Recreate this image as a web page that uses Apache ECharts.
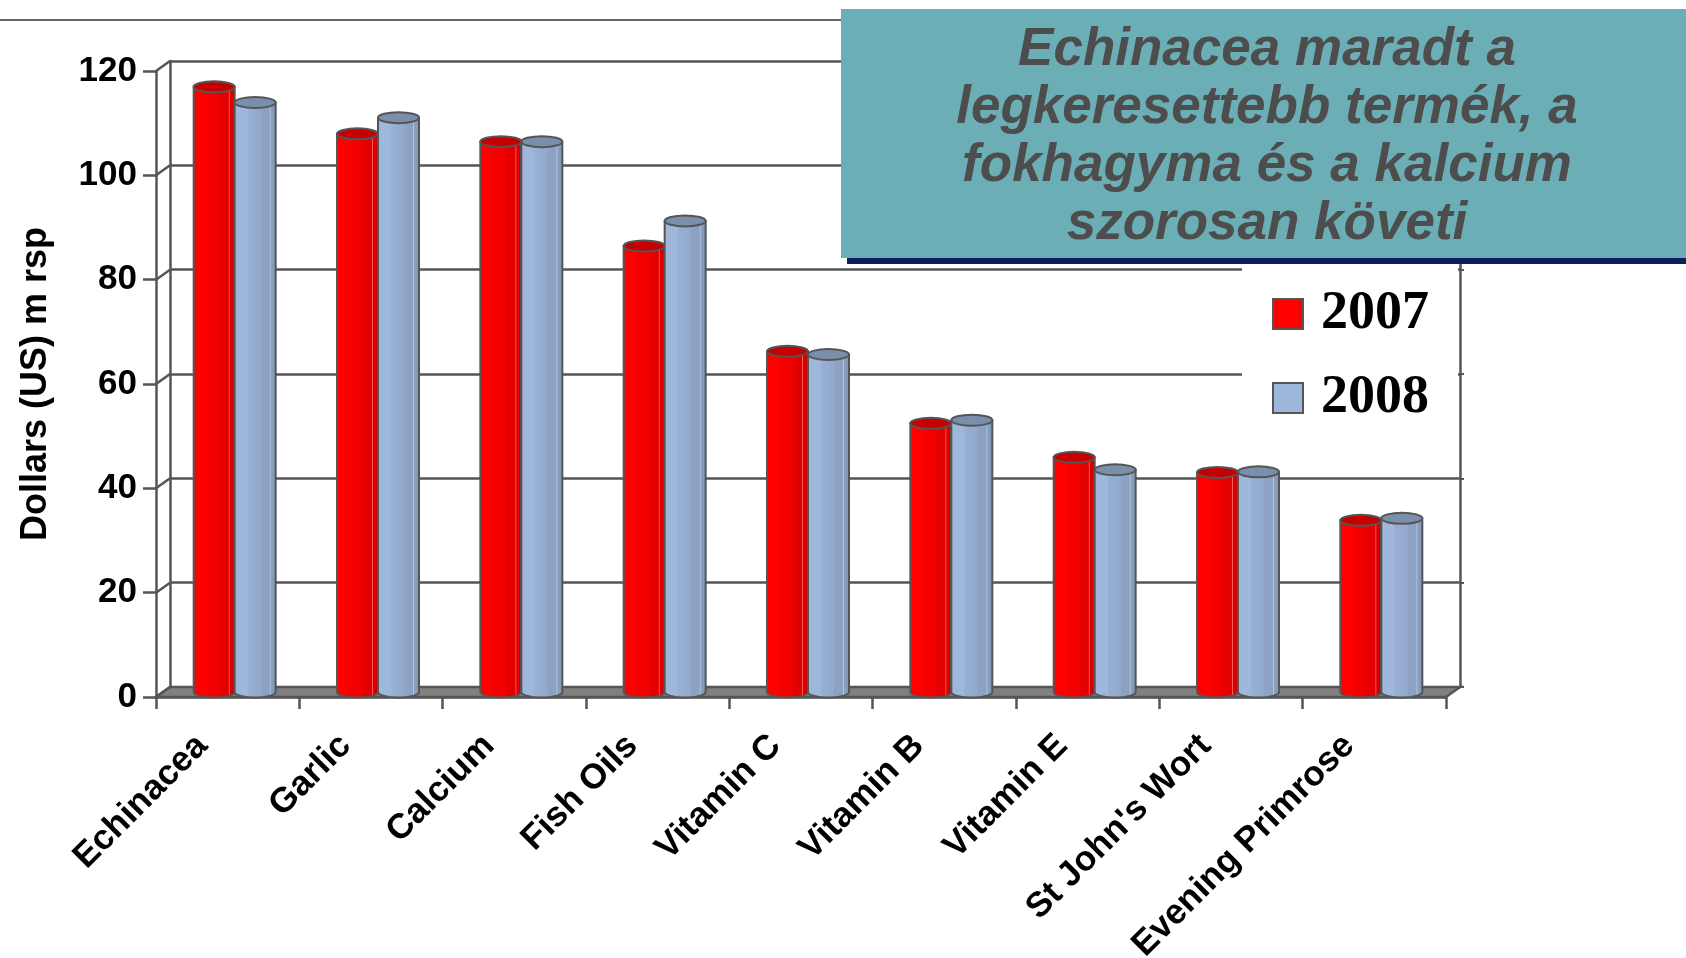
<!DOCTYPE html>
<html>
<head>
<meta charset="utf-8">
<script src="https://cdn.jsdelivr.net/npm/echarts@6/dist/echarts.min.js"></script>
<style>
  html, body { margin: 0; padding: 0; background: #fff; }
  #chart { width: 1686px; height: 958px; }
</style>
</head>
<body>
<div id="chart"></div>
<script>
// ---- data ----
const categories = ['Echinacea', 'Garlic', 'Calcium', 'Fish Oils', 'Vitamin C', 'Vitamin B', 'Vitamin E', "St John's Wort", 'Evening Primrose'];
const values2007 = [116, 107, 105.5, 85.5, 65.3, 51.5, 45, 42.1, 32.9];
const values2008 = [113, 110.1, 105.5, 90.3, 64.7, 52.1, 42.6, 42.2, 33.3];
const seriesNames = ['2007', '2008'];
const yTicks = [0, 20, 40, 60, 80, 100, 120];
const yAxisName = 'Dollars (US) m rsp';
const titleLines = ['Echinacea maradt a', 'legkeresettebb termék, a', 'fokhagyma és a kalcium', 'szorosan követi'];

// ---- layout ----
const FRONT = { left: 156, right: 240, top: 71, bottom: 261 };
const DX = 14, DY = -10; // depth offset front -> back
const MID = { left: FRONT.left + DX / 2, right: FRONT.right - DX / 2, top: FRONT.top + DY / 2, bottom: FRONT.bottom - DY / 2 };
const BACK = { left: FRONT.left + DX, right: FRONT.right - DX, top: FRONT.top + DY, bottom: FRONT.bottom - DY };
const LINE = '#555555';

const chart = echarts.init(document.getElementById('chart'));

function cylinder(params, api, side, colors) {
  const idx = api.value(0);
  const v = api.value(1);
  const base = api.coord([idx, 0]);
  const top = api.coord([idx, v]);
  const band = api.size([1, 0])[0];
  const w = band * 0.286;
  const cx = base[0] + side * w / 2;
  const rx = w / 2, ry = 5.5;
  const l = cx - rx, r = cx + rx;
  const by = base[1], ty = top[1];
  const body = `M ${l} ${ty} L ${l} ${by} A ${rx} ${ry} 0 0 0 ${r} ${by} L ${r} ${ty} Z`;
  const cap = `M ${l} ${ty} A ${rx} ${ry} 0 1 0 ${r} ${ty} A ${rx} ${ry} 0 1 0 ${l} ${ty} Z`;
  return {
    type: 'group',
    children: [
      { type: 'path', shape: { pathData: body },
        style: { fill: new echarts.graphic.LinearGradient(0, 0, 1, 0, colors.body), stroke: LINE, lineWidth: 2 } },
      { type: 'path', shape: { pathData: cap },
        style: { fill: colors.cap, stroke: LINE, lineWidth: 2 } }
    ]
  };
}

const redColors = {
  body: [
    { offset: 0, color: '#FF0000' }, { offset: 0.32, color: '#FF0000' },
    { offset: 0.34, color: '#F60000' }, { offset: 0.62, color: '#F00000' },
    { offset: 0.64, color: '#E40000' }, { offset: 0.83, color: '#E00000' },
    { offset: 0.85, color: '#FF6060' }, { offset: 0.87, color: '#DC0000' },
    { offset: 1, color: '#D00000' }
  ],
  cap: '#C60000'
};
const blueColors = {
  body: [
    { offset: 0, color: '#9EB7DB' }, { offset: 0.32, color: '#9EB7DB' },
    { offset: 0.34, color: '#97AFD2' }, { offset: 0.62, color: '#93AACC' },
    { offset: 0.64, color: '#8CA3C4' }, { offset: 0.83, color: '#8AA1C0' },
    { offset: 0.85, color: '#B4C7E2' }, { offset: 0.87, color: '#889FBE' },
    { offset: 1, color: '#8199B8' }
  ],
  cap: '#7A8FAB'
};

const gridBase = { containLabel: false, outerBoundsMode: 'none' };

const option = {
  backgroundColor: '#ffffff',
  animation: false,
  grid: [
    Object.assign({ left: BACK.left, right: BACK.right, top: BACK.top, bottom: BACK.bottom }, gridBase),
    Object.assign({ left: MID.left, right: MID.right, top: MID.top, bottom: MID.bottom }, gridBase),
    Object.assign({ left: FRONT.left, right: FRONT.right, top: FRONT.top, bottom: FRONT.bottom }, gridBase)
  ],
  xAxis: [
    { gridIndex: 0, type: 'category', data: categories, show: false },
    { gridIndex: 1, type: 'category', data: categories, show: false },
    { gridIndex: 2, type: 'category', data: categories,
      axisLine: { show: true, lineStyle: { color: LINE, width: 2.5 } },
      axisTick: { show: true, length: 12, lineStyle: { color: LINE, width: 2.5 } },
      splitLine: { show: false },
      axisLabel: { interval: 0, rotate: 45, margin: 18, padding: [0, 36, 0, 0],
        fontFamily: 'Liberation Sans', fontWeight: 'bold', fontSize: 35, color: '#000' } }
  ],
  yAxis: [
    { gridIndex: 0, type: 'value', min: 0, max: 120, interval: 20,
      axisLine: { show: true, lineStyle: { color: LINE, width: 2.5 } },
      axisTick: { show: false }, axisLabel: { show: false },
      splitLine: { show: true, lineStyle: { color: LINE, width: 2.5 } } },
    { gridIndex: 1, type: 'value', min: 0, max: 120, interval: 20, show: false },
    { gridIndex: 2, type: 'value', min: 0, max: 120, interval: 20,
      name: yAxisName, nameLocation: 'middle', nameGap: 102, nameRotate: 90,
      nameTextStyle: { fontFamily: 'Liberation Sans', fontWeight: 'bold', fontSize: 36, color: '#000' },
      axisLine: { show: true, lineStyle: { color: LINE, width: 2.5 } },
      axisTick: { show: true, length: 13, lineStyle: { color: LINE, width: 2.5 } },
      splitLine: { show: false },
      axisLabel: { margin: 19, fontFamily: 'Liberation Sans', fontWeight: 'bold', fontSize: 35, color: '#000' } },
    { gridIndex: 0, type: 'value', min: 0, max: 120, interval: 20, position: 'right',
      axisLine: { show: true, lineStyle: { color: LINE, width: 2.5 } },
      axisTick: { show: true, length: 4, lineStyle: { color: LINE, width: 2 } },
      axisLabel: { show: false }, splitLine: { show: false } }
  ],
  legend: {
    orient: 'vertical', left: 1242, top: 265,
    padding: [18, 29, 15, 30],
    itemWidth: 30, itemHeight: 30, itemGap: 22,
    backgroundColor: '#ffffff', borderWidth: 0,
    icon: 'rect',
    itemStyle: { borderColor: LINE, borderWidth: 2 },
    textStyle: { fontFamily: 'Liberation Serif', fontWeight: 'bold', fontSize: 54, lineHeight: 54,
      color: '#000', padding: [8, 0, 0, 13] },
    data: [
      { name: seriesNames[0], itemStyle: { color: '#FF0000' } },
      { name: seriesNames[1], itemStyle: { color: '#9EB7DB' } }
    ]
  },
  graphic: [
    { type: 'line', shape: { x1: 0, y1: 20, x2: 845, y2: 20 }, style: { stroke: '#666', lineWidth: 2 }, z: 10 },
    { type: 'rect', shape: { x: 847, y: 14, width: 860, height: 250 }, style: { fill: '#0B1F5C' }, z: 10 },
    { type: 'rect', shape: { x: 841, y: 9, width: 860, height: 249 }, style: { fill: '#6BAEB5' }, z: 11 },
    { type: 'text', x: 1267, y: 137, z: 12,
      style: { text: titleLines.join('\n'), fill: '#4D4D4D', align: 'center', verticalAlign: 'middle',
        font: 'italic bold 53px "Liberation Sans"', lineHeight: 58 } }
  ],
  series: [
    { // floor
      type: 'custom', xAxisIndex: 2, yAxisIndex: 2, z: 1, silent: true,
      data: [[0, 0]],
      renderItem: function (params, api) {
        const cs = params.coordSys;
        const y0 = cs.y + cs.height;
        return { type: 'polygon',
          shape: { points: [[cs.x, y0], [cs.x + cs.width, y0], [cs.x + cs.width + DX, y0 + DY], [cs.x + DX, y0 + DY]] },
          style: { fill: '#808080', stroke: LINE, lineWidth: 2.5 } };
      }
    },
    { // side connectors at tick levels
      type: 'custom', xAxisIndex: 2, yAxisIndex: 2, z: 1, silent: true,
      data: yTicks.map(v => [0, v]),
      renderItem: function (params, api) {
        const cs = params.coordSys;
        const p = api.coord([0, api.value(1)]);
        return { type: 'line', shape: { x1: cs.x, y1: p[1], x2: cs.x + DX, y2: p[1] + DY },
          style: { stroke: LINE, lineWidth: 2.5 } };
      }
    },
    {
      name: seriesNames[0], type: 'custom', xAxisIndex: 1, yAxisIndex: 1, z: 3,
      itemStyle: { color: '#FF0000' },
      data: values2007.map((v, i) => [i, v]),
      renderItem: function (params, api) { return cylinder(params, api, -1, redColors); }
    },
    {
      name: seriesNames[1], type: 'custom', xAxisIndex: 1, yAxisIndex: 1, z: 3,
      itemStyle: { color: '#9EB7DB' },
      data: values2008.map((v, i) => [i, v]),
      renderItem: function (params, api) { return cylinder(params, api, 1, blueColors); }
    }
  ]
};
chart.setOption(option);
</script>
</body>
</html>
